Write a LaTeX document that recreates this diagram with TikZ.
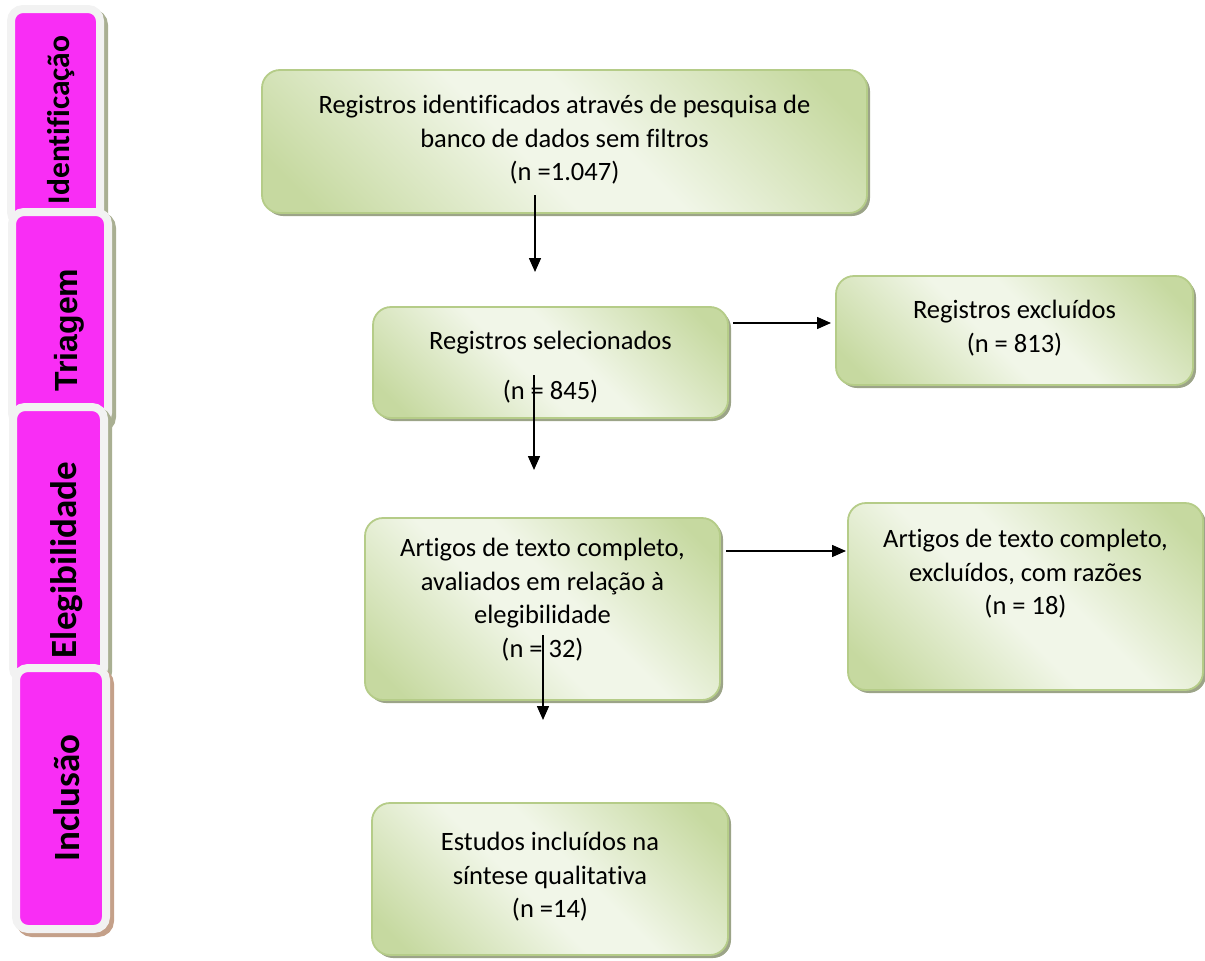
\documentclass[tikz,border=0pt]{standalone}
\usepackage{fontspec}
\setmainfont{Carlito}[Ligatures=NoCommon]
\newfontfamily\arialfont{Liberation Sans}
\usetikzlibrary{arrows.meta,shadows,calc}
\definecolor{gdark}{HTML}{C6D9A0}
\definecolor{glight}{HTML}{F1F6E8}
\definecolor{gborder}{HTML}{B5CC88}
\definecolor{gshadow}{HTML}{9CA488}
\definecolor{tabpink}{HTML}{F92DF5}
\definecolor{tabwhite}{HTML}{F2F2F2}
\definecolor{tabshadow}{HTML}{A9AF92}
\definecolor{tabshadowb}{HTML}{C4A089}
\pgfdeclarehorizontalshading{greenband}{100bp}{color(0bp)=(gdark); color(20bp)=(gdark); color(45bp)=(glight); color(55bp)=(glight); color(80bp)=(gdark); color(100bp)=(gdark)}
\tikzset{
  gbox/.style={rectangle, rounded corners=18pt, draw=gborder, line width=1.8pt,
    shade, shading=greenband, shading angle=45, inner sep=0pt,
    drop shadow={shadow xshift=3pt, shadow yshift=-3pt, fill=gshadow, opacity=1}},
  btext/.style={align=center, inner sep=0pt, font=\fontsize{26.5}{33.5}\selectfont},
  tabbox/.style={rectangle, rounded corners=12pt, draw=tabwhite, line width=8pt,
    fill=tabpink, inner sep=0pt,
    drop shadow={shadow xshift=4pt, shadow yshift=-4pt, fill=#1, draw=#1, line width=8pt, opacity=1}},
  tabtext/.style={rotate=90, anchor=base, inner sep=0pt},
  arr/.style={line width=1.5pt, -{Triangle[length=14pt,width=12pt]}},
}
\begin{document}
\begin{tikzpicture}[x=1pt,y=-1pt]
\useasboundingbox (0,0) rectangle (1205,961);
% left tabs
\node[tabbox=tabshadow, minimum width=89pt, minimum height=215pt] (t1) at (55.5,116.5) {};
\node[tabtext, font=\bfseries\fontsize{31.5}{31.5}\selectfont] (t1t) at (69,120) {Identificação};
\node[tabbox=tabshadow, minimum width=96pt, minimum height=213pt] (t2) at (60,318.5) {};
\node[tabtext, font=\arialfont\bfseries\fontsize{32}{32}\selectfont] (t2t) at (77,330) {Triagem};
\node[tabbox=tabshadow, minimum width=91pt, minimum height=273pt] (t3) at (58.5,543.5) {};
\node[tabtext, font=\bfseries\fontsize{37}{37}\selectfont] (t3t) at (76,560) {Elegibilidade};
\node[tabbox=tabshadowb, minimum width=90pt, minimum height=261pt] (t4) at (61,798.5) {};
\node[tabtext, font=\bfseries\fontsize{37}{37}\selectfont] (t4t) at (79,798) {Inclusão};
% boxes
\node[gbox, minimum width=605pt, minimum height=143pt] (b1) at (564.5,141.5) {};
\node[gbox, minimum width=355pt, minimum height=111pt] (b2) at (550.5,362.5) {};
\node[gbox, minimum width=357pt, minimum height=109pt] (b3) at (1014.5,330.5) {};
\node[gbox, minimum width=355pt, minimum height=182pt] (b4) at (542.5,609) {};
\node[gbox, minimum width=355pt, minimum height=187pt] (b5) at (1025.5,596.5) {};
\node[gbox, minimum width=356pt, minimum height=152pt] (b6) at (550,879) {};
% texts
\node[btext] (b1t) at ($(b1)+(0,-1.5)$) {Registros identificados através de pesquisa de\\banco de dados sem filtros\\(n =1.047)};
\node[btext] (b2t) at ($(b2)+(0,4.5)$) {Registros selecionados\\[16.5pt](n = 845)};
\node[btext] (b3t) at ($(b3)+(0,-2.5)$) {Registros excluídos\\(n = 813)};
\node[btext] (b4t) at ($(b4)+(0,-9.5)$) {Artigos de texto completo,\\avaliados em relação à\\elegibilidade\\(n = 32)};
\node[btext] (b5t) at ($(b5)+(0,-22.5)$) {Artigos de texto completo,\\excluídos, com razões\\(n = 18)};
\node[btext] (b6t) at ($(b6)+(0,-2)$) {Estudos incluídos na\\síntese qualitativa\\(n =14)};
% arrows
\coordinate (a1s) at (535,195); \coordinate (a1e) at (535,272);
\coordinate (a2s) at (733,323); \coordinate (a2e) at (831,323);
\coordinate (a3s) at (534,375); \coordinate (a3e) at (534,470);
\coordinate (a4s) at (726,551); \coordinate (a4e) at (846,551);
\coordinate (a5s) at (543,635); \coordinate (a5e) at (543,720);
\draw[arr] (a1s) -- (a1e);
\draw[arr] (a2s) -- (a2e);
\draw[arr] (a3s) -- (a3e);
\draw[arr] (a4s) -- (a4e);
\draw[arr] (a5s) -- (a5e);
\end{tikzpicture}
\end{document}
